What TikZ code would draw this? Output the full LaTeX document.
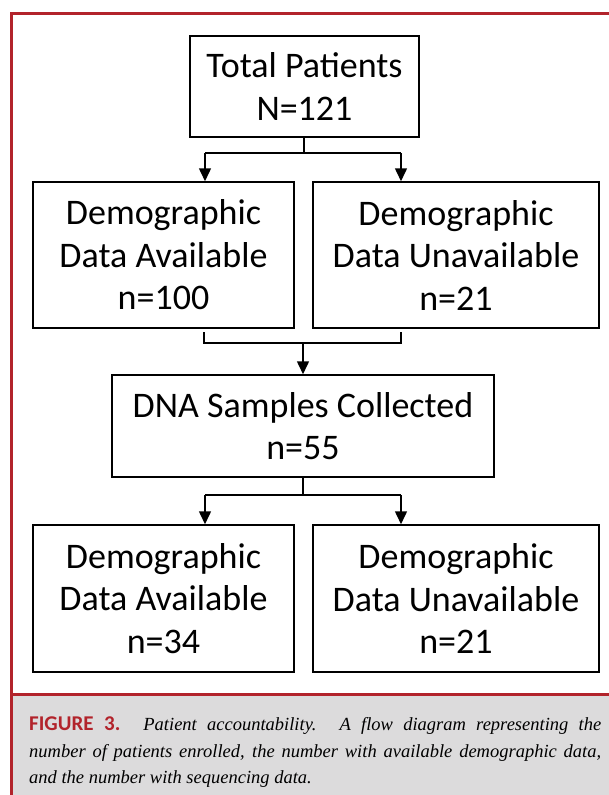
\documentclass[tikz,border=0pt]{standalone}
\usepackage{fontspec}
\setmainfont{Carlito}
\newfontfamily\captionserif{Liberation Serif}
\usetikzlibrary{positioning,calc,arrows.meta}
\definecolor{framered}{HTML}{B2232B}
\definecolor{capgray}{HTML}{DCDBDC}

\begin{document}
\begin{tikzpicture}[x=1pt,y=-1pt,
    flowbox/.style={shape=rectangle,draw=black,line width=1.5pt,align=center,inner sep=0pt,
      font=\fontsize{36}{42.5}\selectfont},
    link/.style={line width=1.5pt},
    flowarrow/.style={line width=1.5pt,-{Triangle[width=12pt,length=13pt]}}]
				\useasboundingbox (0,0) rectangle (609,795);
				% frame and caption strip
				\fill[capgray] (11,694) rectangle (609,795);
				\draw[framered,line width=3pt] (609,13) -- (11,13) -- (11,795);
				\draw[framered,line width=3pt] (11,694) -- (609,694);

				\node[flowbox,minimum width=229pt,minimum height=101pt] (tot) at (304.5,86.5) {Total Patients\\N=121};
				\node[flowbox,minimum width=261pt,minimum height=146pt] (demA) at (163.5,255) {Demographic\\Data Available\\n=100};
				\node[flowbox,minimum width=286pt,minimum height=146pt] (demU) at (456,255) {Demographic\\Data Unavailable\\n=21};
				\node[flowbox,minimum width=382pt,minimum height=102pt] (dna) at (303,426) {DNA Samples Collected\\n=55};
				\node[flowbox,minimum width=261pt,minimum height=147pt] (seqA) at (163.5,598.5) {Demographic\\Data Available\\n=34};
				\node[flowbox,minimum width=286pt,minimum height=147pt] (seqU) at (456,598.5) {Demographic\\Data Unavailable\\n=21};

				\coordinate (j1) at (304,153);
				\coordinate (j1l) at (205,153);
				\coordinate (j1r) at (401,153);
				\coordinate (b1l) at (204,332);
				\coordinate (b1r) at (401,332);
				\coordinate (j2) at (303,343);
				\coordinate (j3) at (303,495);
				\coordinate (j3l) at (205,495);
				\coordinate (j3r) at (401,495);

				\draw[link] (tot.south -| j1) -- (j1);
				\draw[link] (j1l) -- (j1r);
				\draw[flowarrow] (j1l) -- (j1l |- demA.north);
				\draw[flowarrow] (j1r) -- (j1r |- demU.north);
				\draw[link] (b1l) -- (b1l |- j2) -- (b1r |- j2) -- (b1r);
				\draw[flowarrow] (j2) -- (dna.north -| j2);
				\draw[link] (dna.south -| j3) -- (j3);
				\draw[link] (j3l) -- (j3r);
				\draw[flowarrow] (j3l) -- (j3l |- seqA.north);
				\draw[flowarrow] (j3r) -- (j3r |- seqU.north);

				\node[anchor=north west,text width=572pt,align=justify,inner sep=0pt,
				  font=\captionserif\itshape\fontsize{18.5}{26.5}\selectfont] (cap) at (29,717)
				  {{\rmfamily\upshape\bfseries\fontsize{21}{26.5}\selectfont\color{framered}FIGURE 3.} Patient accountability. A flow diagram representing the\linebreak
				  number of patients enrolled, the number with available demographic data,\linebreak
				  and the number with sequencing data.};
			\end{tikzpicture}
\end{document}
